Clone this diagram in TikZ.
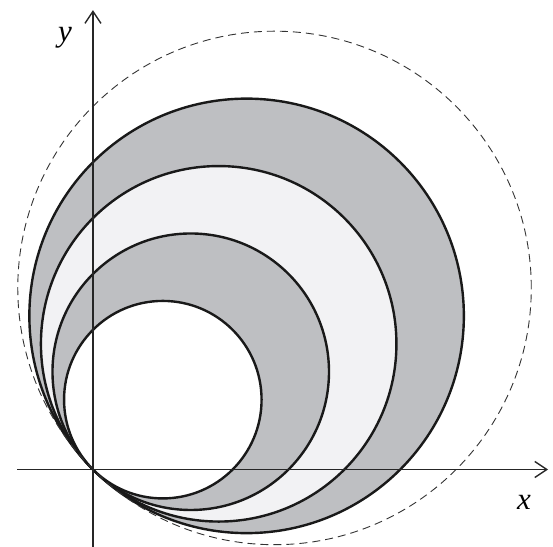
\documentclass[tikz,border=0pt]{standalone}
\usepackage{fontspec}
\setmainfont{Liberation Serif}
\usetikzlibrary{positioning}
\usetikzlibrary{arrows.meta}
\definecolor{ringdark}{RGB}{190,191,194}
\definecolor{ringlight}{RGB}{242,242,244}
\tikzset{
    axis/.style = {line width=1.4pt,draw=black!85,-{Straight Barb[length=12pt,width=16pt,line width=1.4pt]}},
    ring/.style = {line width=2.4pt,draw=black!90},
    ringd/.style = {ring,fill=ringdark},
    ringl/.style = {ring,fill=ringlight},
    ringw/.style = {ring,fill=white},
    hull/.style = {line width=0.9pt,draw=black!80,dash pattern=on 8pt off 5pt},
    axlabel/.style = {inner sep=0pt,font=\fontsize{31}{36}\selectfont\itshape}
}
\begin{document}
\begin{tikzpicture}[x=39.5pt,y=39.5pt]
\useasboundingbox (-2.354,-1.962) rectangle (11.646,11.886);
\coordinate (O) at (0,0);
\coordinate (xs) at (-1.92,0);
\coordinate (xe) at (11.52,0);
\coordinate (ys) at (0,-2.0);
\coordinate (ye) at (0,11.63);
%
\coordinate (c1) at (45:2.5);
\coordinate (c2) at (45:3.5);
\coordinate (c3) at (45:4.5);
\coordinate (c4) at (45:5.5);
\coordinate (c5) at (45:6.5);
%
\draw[ringd] (c4) circle (5.5);
\draw[ringl] (c3) circle (4.5);
\draw[ringd] (c2) circle (3.5);
\draw[ringw] (c1) circle (2.5);
\draw[hull] (c5) circle (6.5);
%
\draw[axis] (xs) -- (xe);
\draw[axis] (ys) -- (ye);
\node[axlabel] at (10.91,-0.82) (xl) {x};
\node[axlabel] at (-0.71,10.92) (yl) {y};
\end{tikzpicture}
\end{document}
